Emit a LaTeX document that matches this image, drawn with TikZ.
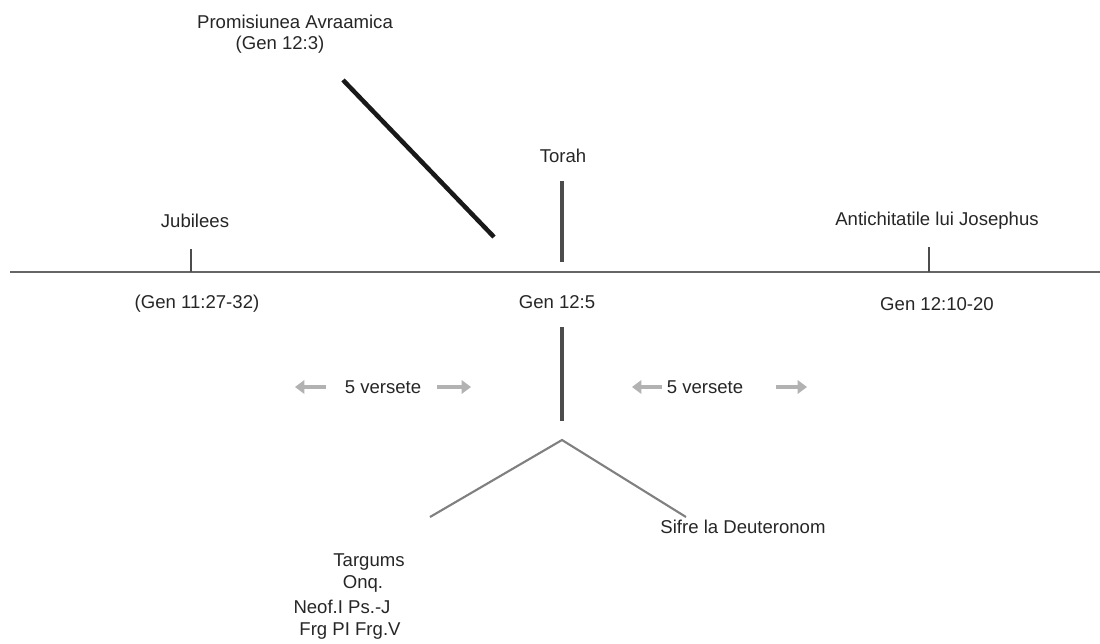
\documentclass[tikz,border=0pt]{standalone}
\usepackage{fontspec}
\setmainfont{Liberation Sans}
\usetikzlibrary{arrows.meta}

\tikzset{
	lbl/.style={inner sep=0pt, text=black!85, font=\fontsize{14}{16}\selectfont},
	axis/.style={draw=black!60, line width=1.5pt},
	tick/.style={draw=black!70, line width=1.5pt},
	stem/.style={draw=black!70, line width=2.4pt},
	fork/.style={draw=black!50, line width=1.6pt},
	promise/.style={draw=black!90, line width=3.4pt},
	span/.style={draw=black!30, line width=3pt, -{Triangle[length=7pt,width=10pt]}}
}

\begin{document}
\begin{tikzpicture}[x=0.0265cm, y=-0.0265cm]
	\useasboundingbox (0,0) rectangle (1100,643);
	
	% time line
	\coordinate (lineL) at (10,272);
	\coordinate (lineR) at (1100,272);
	\draw[axis] (lineL) -- (lineR);
	
	% Jubilees
	\node[lbl] (jub) at (195,221) {Jubilees};
	\coordinate (jubT) at (191,249);
	\coordinate (jubB) at (191,272);
	\draw[tick] (jubT) -- (jubB);
	\node[lbl] (jubref) at (197,304) {(Gen 11:27-32)};
	
	% Abrahamic promise
	\node[lbl] (prom) at (295,22) {Promisiunea Avraamica};
	\node[lbl] (promref) at (280,45) {(Gen 12:3)};
	\coordinate (promA) at (343,80);
	\coordinate (promB) at (494,237);
	\draw[promise] (promA) -- (promB);
	
	% Torah
	\node[lbl] (torah) at (563,156) {Torah};
	\coordinate (torT) at (562,181);
	\coordinate (torB) at (562,262);
	\draw[stem] (torT) -- (torB);
	\node[lbl] (gen) at (557,302) {Gen 12:5};
	
	% Josephus
	\node[lbl] (jos) at (937,221) {Antichitatile lui Josephus};
	\coordinate (josT) at (929,247);
	\coordinate (josB) at (929,272);
	\draw[tick] (josT) -- (josB);
	\node[lbl] (josref) at (937,304) {Gen 12:10-20};
	
	% five verses either side
	\node[lbl] (versL) at (383,387) {5 versete};
	\node[lbl] (versR) at (705,387) {5 versete};
	\coordinate (aL1) at (326,387);
	\coordinate (aL2) at (295,387);
	\coordinate (aL3) at (437,387);
	\coordinate (aL4) at (471,387);
	\coordinate (aR1) at (662,387);
	\coordinate (aR2) at (632,387);
	\coordinate (aR3) at (776,387);
	\coordinate (aR4) at (807,387);
	\draw[span] (aL1) -- (aL2);
	\draw[span] (aL3) -- (aL4);
	\draw[span] (aR1) -- (aR2);
	\draw[span] (aR3) -- (aR4);
	
	% lower stem and fork
	\coordinate (stT) at (562,327);
	\coordinate (stB) at (562,421);
	\draw[stem] (stT) -- (stB);
	\coordinate (apex) at (562,440);
	\coordinate (forkL) at (430,517);
	\coordinate (forkR) at (686,517);
	\draw[fork] (forkL) -- (apex) -- (forkR);
	
	\node[lbl] (sifre) at (743,527) {Sifre la Deuteronom};
	\node[lbl] (targ) at (369,562) {Targums};
	\node[lbl] (onq) at (363,584) {Onq.};
	\node[lbl] (neof) at (342,607) {Neof.I Ps.-J};
	\node[lbl] (frg) at (350,631) {Frg PI Frg.V};
\end{tikzpicture}
\end{document}
